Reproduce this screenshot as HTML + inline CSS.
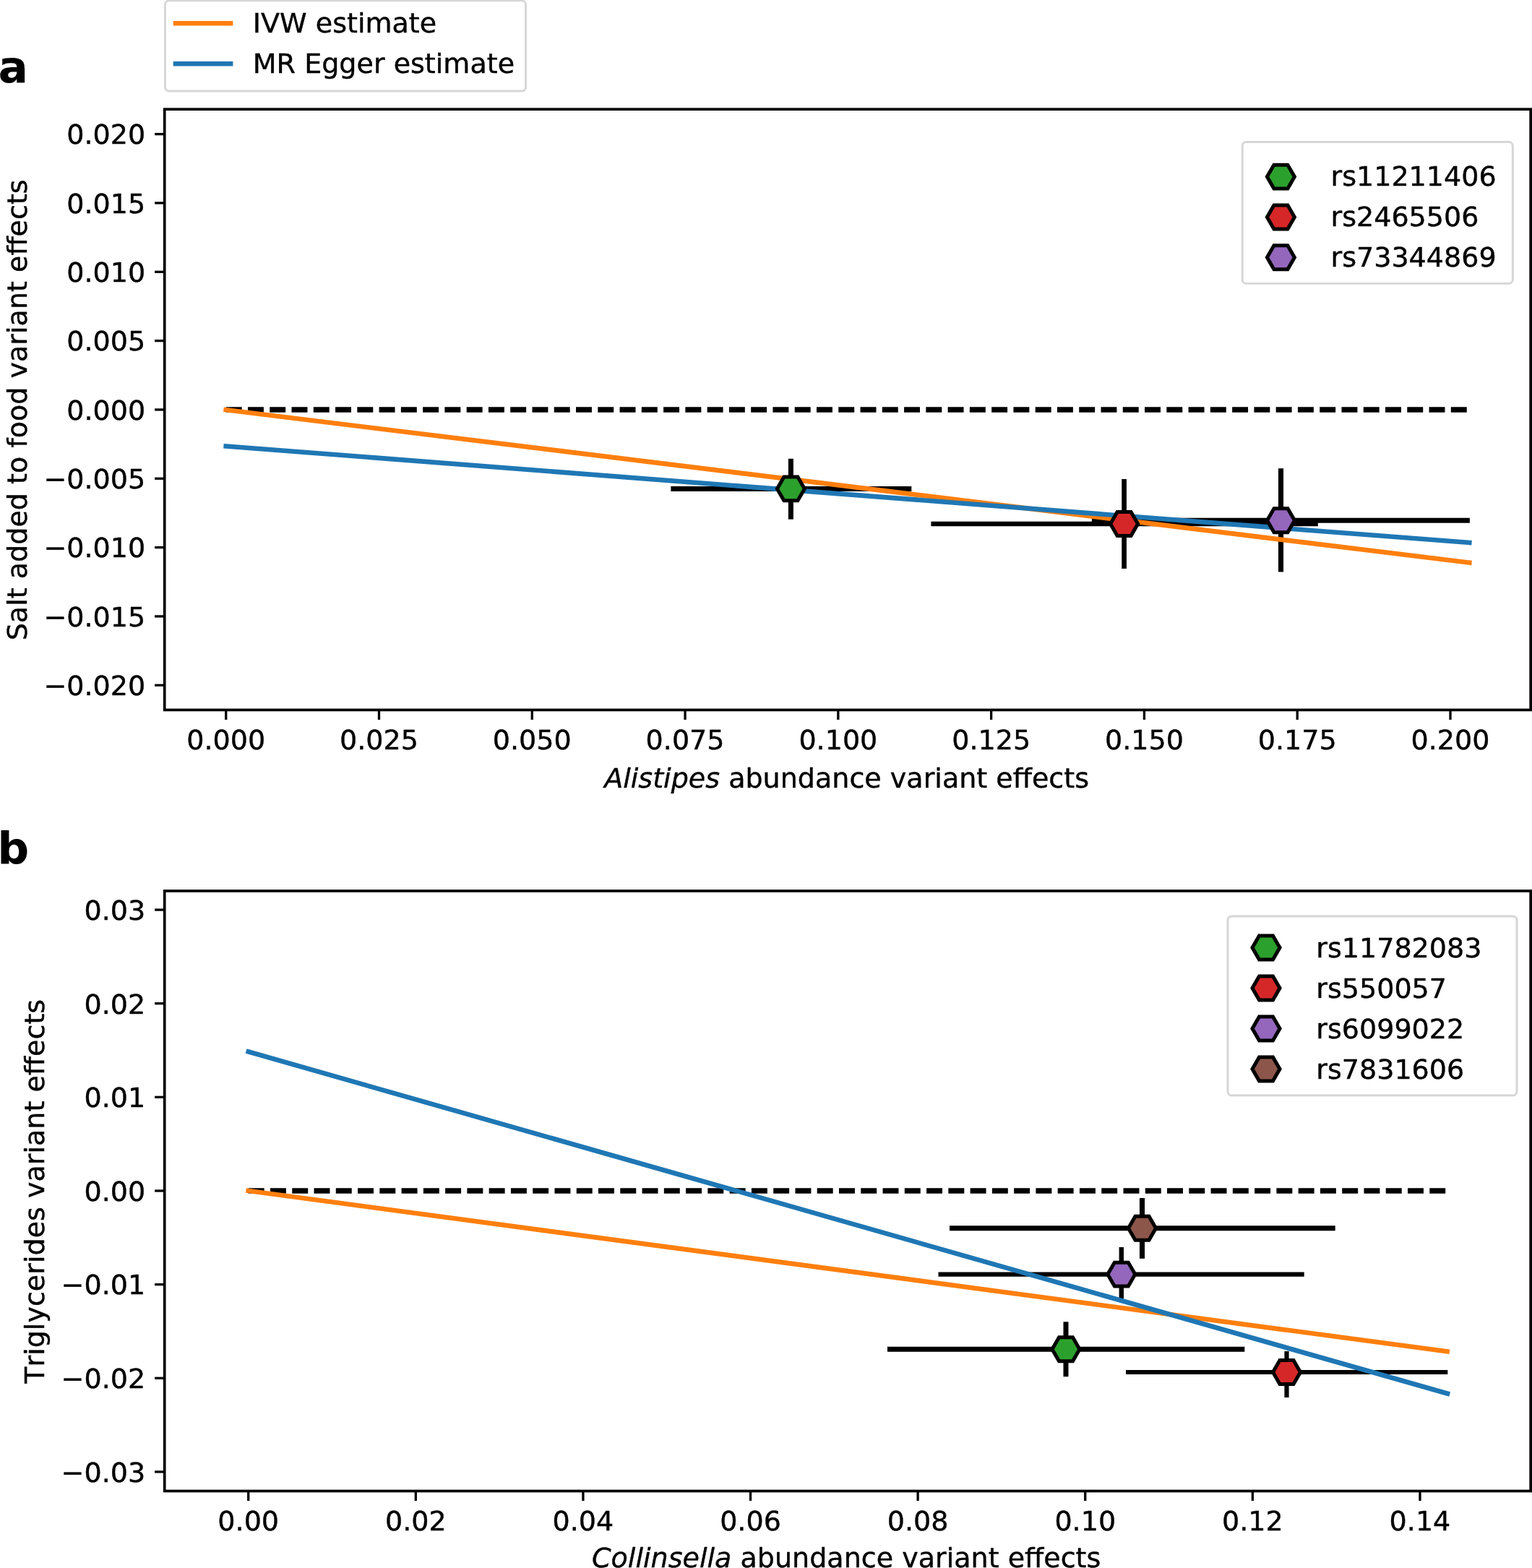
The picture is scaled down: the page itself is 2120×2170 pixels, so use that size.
<!DOCTYPE html>
<html lang="en">
<head>
<meta charset="utf-8">
<title>Mendelian randomization scatter plots</title>
<style>
html,body{margin:0;padding:0;background:#fff;}
body{width:2120px;height:2170px;overflow:hidden;}
svg{display:block;}
</style>
</head>
<body>
<svg width="2120" height="2170" viewBox="0 0 2120 2170" font-family="'DejaVu Sans', 'Liberation Sans', sans-serif" fill="#000">
<style>text{stroke:#000;stroke-width:0.42px;stroke-linejoin:round;font-kerning:none}text.pl{stroke-width:0.2px}</style>
<rect width="2120" height="2170" fill="#fff"/>
<g id="panel-a">
<line x1="312.7" y1="566.95" x2="2033.8" y2="566.95" stroke="#000" stroke-width="7.5" stroke-linecap="butt" stroke-dasharray="21.95 8.32"/>
<line x1="928.4" y1="676.4" x2="1261.3" y2="676.4" stroke="#000" stroke-width="7" stroke-linecap="butt"/>
<line x1="1094.4" y1="634.8" x2="1094.4" y2="718.7" stroke="#000" stroke-width="7" stroke-linecap="butt"/>
<line x1="1288.4" y1="725" x2="1823.8" y2="725" stroke="#000" stroke-width="6.7" stroke-linecap="butt"/>
<line x1="1555.6" y1="663" x2="1555.6" y2="787" stroke="#000" stroke-width="6.7" stroke-linecap="butt"/>
<line x1="1510.9" y1="720.3" x2="2033.9" y2="720.3" stroke="#000" stroke-width="7.1" stroke-linecap="butt"/>
<line x1="1772.5" y1="648.3" x2="1772.5" y2="791.6" stroke="#000" stroke-width="7.1" stroke-linecap="butt"/>
<line x1="312.7" y1="567.2" x2="2033.3" y2="778.7" stroke="#ff7f0e" stroke-width="6.6" stroke-linecap="square"/>
<line x1="312.7" y1="617.5" x2="2033.3" y2="751" stroke="#1f77b4" stroke-width="6.6" stroke-linecap="square"/>
<polygon points="1113.4,676.4 1103.9,692.85 1084.9,692.85 1075.4,676.4 1084.9,659.95 1103.9,659.95" fill="#2ca02c" stroke="#000" stroke-width="5" stroke-linejoin="miter"/>
<polygon points="1574.6,725 1565.1,741.45 1546.1,741.45 1536.6,725 1546.1,708.55 1565.1,708.55" fill="#d62728" stroke="#000" stroke-width="5" stroke-linejoin="miter"/>
<polygon points="1791.5,720.3 1782,736.75 1763,736.75 1753.5,720.3 1763,703.85 1782,703.85" fill="#9467bd" stroke="#000" stroke-width="5" stroke-linejoin="miter"/>
<rect x="227.7" y="151.2" width="1890.5" height="831.3" fill="none" stroke="#000" stroke-width="3.7"/>
<line x1="312.7" y1="982.5" x2="312.7" y2="996.1" stroke="#000" stroke-width="3.3" stroke-linecap="butt"/>
<text x="312.7" y="1037" font-size="38.05" text-anchor="middle">0.000</text>
<line x1="524.49" y1="982.5" x2="524.49" y2="996.1" stroke="#000" stroke-width="3.3" stroke-linecap="butt"/>
<text x="524.49" y="1037" font-size="38.05" text-anchor="middle">0.025</text>
<line x1="736.28" y1="982.5" x2="736.28" y2="996.1" stroke="#000" stroke-width="3.3" stroke-linecap="butt"/>
<text x="736.28" y="1037" font-size="38.05" text-anchor="middle">0.050</text>
<line x1="948.06" y1="982.5" x2="948.06" y2="996.1" stroke="#000" stroke-width="3.3" stroke-linecap="butt"/>
<text x="948.06" y="1037" font-size="38.05" text-anchor="middle">0.075</text>
<line x1="1159.85" y1="982.5" x2="1159.85" y2="996.1" stroke="#000" stroke-width="3.3" stroke-linecap="butt"/>
<text x="1159.85" y="1037" font-size="38.05" text-anchor="middle">0.100</text>
<line x1="1371.64" y1="982.5" x2="1371.64" y2="996.1" stroke="#000" stroke-width="3.3" stroke-linecap="butt"/>
<text x="1371.64" y="1037" font-size="38.05" text-anchor="middle">0.125</text>
<line x1="1583.42" y1="982.5" x2="1583.42" y2="996.1" stroke="#000" stroke-width="3.3" stroke-linecap="butt"/>
<text x="1583.42" y="1037" font-size="38.05" text-anchor="middle">0.150</text>
<line x1="1795.21" y1="982.5" x2="1795.21" y2="996.1" stroke="#000" stroke-width="3.3" stroke-linecap="butt"/>
<text x="1795.21" y="1037" font-size="38.05" text-anchor="middle">0.175</text>
<line x1="2007" y1="982.5" x2="2007" y2="996.1" stroke="#000" stroke-width="3.3" stroke-linecap="butt"/>
<text x="2007" y="1037" font-size="38.05" text-anchor="middle">0.200</text>
<line x1="214.1" y1="185.59" x2="227.7" y2="185.59" stroke="#000" stroke-width="3.3" stroke-linecap="butt"/>
<text x="201.2" y="199.39" font-size="38.05" text-anchor="end">0.020</text>
<line x1="214.1" y1="280.93" x2="227.7" y2="280.93" stroke="#000" stroke-width="3.3" stroke-linecap="butt"/>
<text x="201.2" y="294.73" font-size="38.05" text-anchor="end">0.015</text>
<line x1="214.1" y1="376.27" x2="227.7" y2="376.27" stroke="#000" stroke-width="3.3" stroke-linecap="butt"/>
<text x="201.2" y="390.07" font-size="38.05" text-anchor="end">0.010</text>
<line x1="214.1" y1="471.61" x2="227.7" y2="471.61" stroke="#000" stroke-width="3.3" stroke-linecap="butt"/>
<text x="201.2" y="485.41" font-size="38.05" text-anchor="end">0.005</text>
<line x1="214.1" y1="566.95" x2="227.7" y2="566.95" stroke="#000" stroke-width="3.3" stroke-linecap="butt"/>
<text x="201.2" y="580.75" font-size="38.05" text-anchor="end">0.000</text>
<line x1="214.1" y1="662.29" x2="227.7" y2="662.29" stroke="#000" stroke-width="3.3" stroke-linecap="butt"/>
<text x="201.2" y="676.09" font-size="38.05" text-anchor="end">−0.005</text>
<line x1="214.1" y1="757.63" x2="227.7" y2="757.63" stroke="#000" stroke-width="3.3" stroke-linecap="butt"/>
<text x="201.2" y="771.43" font-size="38.05" text-anchor="end">−0.010</text>
<line x1="214.1" y1="852.97" x2="227.7" y2="852.97" stroke="#000" stroke-width="3.3" stroke-linecap="butt"/>
<text x="201.2" y="866.77" font-size="38.05" text-anchor="end">−0.015</text>
<line x1="214.1" y1="948.31" x2="227.7" y2="948.31" stroke="#000" stroke-width="3.3" stroke-linecap="butt"/>
<text x="201.2" y="962.11" font-size="38.05" text-anchor="end">−0.020</text>
<text x="1171.6" y="1089.8" font-size="38.05" text-anchor="middle"><tspan font-style="italic">Alistipes</tspan> abundance variant effects</text>
<text transform="translate(37.2 567.3) rotate(-90)" font-size="38.05" text-anchor="middle">Salt added to food variant effects</text>
<rect x="1719.2" y="196.5" width="374.1" height="195.9" rx="5.5" ry="5.5" fill="#fff" fill-opacity="0.8" stroke="#cccccc" stroke-opacity="0.8" stroke-width="2.9"/>
<polygon points="1791.4,244.6 1781.9,261.05 1762.9,261.05 1753.4,244.6 1762.9,228.15 1781.9,228.15" fill="#2ca02c" stroke="#000" stroke-width="5" stroke-linejoin="miter"/>
<text x="1841.5" y="257.4" font-size="38.05" text-anchor="start">rs11211406</text>
<polygon points="1791.4,300.45 1781.9,316.9 1762.9,316.9 1753.4,300.45 1762.9,284 1781.9,284" fill="#d62728" stroke="#000" stroke-width="5" stroke-linejoin="miter"/>
<text x="1841.5" y="313.25" font-size="38.05" text-anchor="start">rs2465506</text>
<polygon points="1791.4,356.3 1781.9,372.75 1762.9,372.75 1753.4,356.3 1762.9,339.85 1781.9,339.85" fill="#9467bd" stroke="#000" stroke-width="5" stroke-linejoin="miter"/>
<text x="1841.5" y="369.1" font-size="38.05" text-anchor="start">rs73344869</text>
<rect x="228.4" y="0.9" width="499.1" height="125.1" rx="5.5" ry="5.5" fill="#fff" fill-opacity="0.8" stroke="#cccccc" stroke-opacity="0.8" stroke-width="2.9"/>
<line x1="243" y1="32.3" x2="319.1" y2="32.3" stroke="#ff7f0e" stroke-width="6.6" stroke-linecap="square"/>
<text x="349.8" y="45.3" font-size="38.05" text-anchor="start">IVW estimate</text>
<line x1="243" y1="88.2" x2="319.1" y2="88.2" stroke="#1f77b4" stroke-width="6.6" stroke-linecap="square"/>
<text x="349.8" y="101.2" font-size="38.05" text-anchor="start">MR Egger estimate</text>
<text x="18.2" y="114.1" font-size="60.8" text-anchor="middle" font-weight="bold" class="pl">a</text>
</g>
<g id="panel-b">
<line x1="343.7" y1="1648" x2="2003" y2="1648" stroke="#000" stroke-width="7.5" stroke-linecap="butt" stroke-dasharray="21.95 8.32"/>
<line x1="1228" y1="1867.2" x2="1722.3" y2="1867.2" stroke="#000" stroke-width="7" stroke-linecap="butt"/>
<line x1="1475" y1="1829.3" x2="1475" y2="1905.2" stroke="#000" stroke-width="7" stroke-linecap="butt"/>
<line x1="1558" y1="1899" x2="2003.3" y2="1899" stroke="#000" stroke-width="6.2" stroke-linecap="butt"/>
<line x1="1780.5" y1="1870" x2="1780.5" y2="1934" stroke="#000" stroke-width="6.2" stroke-linecap="butt"/>
<line x1="1298.5" y1="1763.6" x2="1804.7" y2="1763.6" stroke="#000" stroke-width="6.4" stroke-linecap="butt"/>
<line x1="1551.8" y1="1726" x2="1551.8" y2="1797" stroke="#000" stroke-width="6.4" stroke-linecap="butt"/>
<line x1="1314" y1="1699.8" x2="1847.7" y2="1699.8" stroke="#000" stroke-width="7.1" stroke-linecap="butt"/>
<line x1="1580.5" y1="1658" x2="1580.5" y2="1741.8" stroke="#000" stroke-width="7.1" stroke-linecap="butt"/>
<line x1="343.7" y1="1648" x2="2002.6" y2="1870.4" stroke="#ff7f0e" stroke-width="6.6" stroke-linecap="square"/>
<line x1="343.7" y1="1455.5" x2="2003" y2="1928.6" stroke="#1f77b4" stroke-width="6.6" stroke-linecap="square"/>
<polygon points="1494,1867.2 1484.5,1883.65 1465.5,1883.65 1456,1867.2 1465.5,1850.75 1484.5,1850.75" fill="#2ca02c" stroke="#000" stroke-width="5" stroke-linejoin="miter"/>
<polygon points="1799.5,1899 1790,1915.45 1771,1915.45 1761.5,1899 1771,1882.55 1790,1882.55" fill="#d62728" stroke="#000" stroke-width="5" stroke-linejoin="miter"/>
<polygon points="1570.8,1763.6 1561.3,1780.05 1542.3,1780.05 1532.8,1763.6 1542.3,1747.15 1561.3,1747.15" fill="#9467bd" stroke="#000" stroke-width="5" stroke-linejoin="miter"/>
<polygon points="1599.5,1699.8 1590,1716.25 1571,1716.25 1561.5,1699.8 1571,1683.35 1590,1683.35" fill="#8c564b" stroke="#000" stroke-width="5" stroke-linejoin="miter"/>
<rect x="227.7" y="1233" width="1890.5" height="830.5" fill="none" stroke="#000" stroke-width="3.7"/>
<line x1="343.7" y1="2063.5" x2="343.7" y2="2077.1" stroke="#000" stroke-width="3.3" stroke-linecap="butt"/>
<text x="343.7" y="2118" font-size="38.05" text-anchor="middle">0.00</text>
<line x1="575.31" y1="2063.5" x2="575.31" y2="2077.1" stroke="#000" stroke-width="3.3" stroke-linecap="butt"/>
<text x="575.31" y="2118" font-size="38.05" text-anchor="middle">0.02</text>
<line x1="806.92" y1="2063.5" x2="806.92" y2="2077.1" stroke="#000" stroke-width="3.3" stroke-linecap="butt"/>
<text x="806.92" y="2118" font-size="38.05" text-anchor="middle">0.04</text>
<line x1="1038.53" y1="2063.5" x2="1038.53" y2="2077.1" stroke="#000" stroke-width="3.3" stroke-linecap="butt"/>
<text x="1038.53" y="2118" font-size="38.05" text-anchor="middle">0.06</text>
<line x1="1270.13" y1="2063.5" x2="1270.13" y2="2077.1" stroke="#000" stroke-width="3.3" stroke-linecap="butt"/>
<text x="1270.13" y="2118" font-size="38.05" text-anchor="middle">0.08</text>
<line x1="1501.74" y1="2063.5" x2="1501.74" y2="2077.1" stroke="#000" stroke-width="3.3" stroke-linecap="butt"/>
<text x="1501.74" y="2118" font-size="38.05" text-anchor="middle">0.10</text>
<line x1="1733.35" y1="2063.5" x2="1733.35" y2="2077.1" stroke="#000" stroke-width="3.3" stroke-linecap="butt"/>
<text x="1733.35" y="2118" font-size="38.05" text-anchor="middle">0.12</text>
<line x1="1964.96" y1="2063.5" x2="1964.96" y2="2077.1" stroke="#000" stroke-width="3.3" stroke-linecap="butt"/>
<text x="1964.96" y="2118" font-size="38.05" text-anchor="middle">0.14</text>
<line x1="214.1" y1="1259.1" x2="227.7" y2="1259.1" stroke="#000" stroke-width="3.3" stroke-linecap="butt"/>
<text x="201.2" y="1272.9" font-size="38.05" text-anchor="end">0.03</text>
<line x1="214.1" y1="1388.73" x2="227.7" y2="1388.73" stroke="#000" stroke-width="3.3" stroke-linecap="butt"/>
<text x="201.2" y="1402.53" font-size="38.05" text-anchor="end">0.02</text>
<line x1="214.1" y1="1518.37" x2="227.7" y2="1518.37" stroke="#000" stroke-width="3.3" stroke-linecap="butt"/>
<text x="201.2" y="1532.17" font-size="38.05" text-anchor="end">0.01</text>
<line x1="214.1" y1="1648" x2="227.7" y2="1648" stroke="#000" stroke-width="3.3" stroke-linecap="butt"/>
<text x="201.2" y="1661.8" font-size="38.05" text-anchor="end">0.00</text>
<line x1="214.1" y1="1777.63" x2="227.7" y2="1777.63" stroke="#000" stroke-width="3.3" stroke-linecap="butt"/>
<text x="201.2" y="1791.43" font-size="38.05" text-anchor="end">−0.01</text>
<line x1="214.1" y1="1907.27" x2="227.7" y2="1907.27" stroke="#000" stroke-width="3.3" stroke-linecap="butt"/>
<text x="201.2" y="1921.07" font-size="38.05" text-anchor="end">−0.02</text>
<line x1="214.1" y1="2036.9" x2="227.7" y2="2036.9" stroke="#000" stroke-width="3.3" stroke-linecap="butt"/>
<text x="201.2" y="2050.7" font-size="38.05" text-anchor="end">−0.03</text>
<text x="1171.2" y="2169.1" font-size="38.05" text-anchor="middle"><tspan font-style="italic">Collinsella</tspan> abundance variant effects</text>
<text transform="translate(61.4 1648.8) rotate(-90)" font-size="38.05" text-anchor="middle">Triglycerides variant effects</text>
<rect x="1699" y="1268" width="400" height="248" rx="5.5" ry="5.5" fill="#fff" fill-opacity="0.8" stroke="#cccccc" stroke-opacity="0.8" stroke-width="2.9"/>
<polygon points="1771,1311.5 1761.5,1327.95 1742.5,1327.95 1733,1311.5 1742.5,1295.05 1761.5,1295.05" fill="#2ca02c" stroke="#000" stroke-width="5" stroke-linejoin="miter"/>
<text x="1821.3" y="1324.5" font-size="38.05" text-anchor="start">rs11782083</text>
<polygon points="1771,1367.5 1761.5,1383.95 1742.5,1383.95 1733,1367.5 1742.5,1351.05 1761.5,1351.05" fill="#d62728" stroke="#000" stroke-width="5" stroke-linejoin="miter"/>
<text x="1821.3" y="1380.5" font-size="38.05" text-anchor="start">rs550057</text>
<polygon points="1771,1423.5 1761.5,1439.95 1742.5,1439.95 1733,1423.5 1742.5,1407.05 1761.5,1407.05" fill="#9467bd" stroke="#000" stroke-width="5" stroke-linejoin="miter"/>
<text x="1821.3" y="1436.5" font-size="38.05" text-anchor="start">rs6099022</text>
<polygon points="1771,1479.5 1761.5,1495.95 1742.5,1495.95 1733,1479.5 1742.5,1463.05 1761.5,1463.05" fill="#8c564b" stroke="#000" stroke-width="5" stroke-linejoin="miter"/>
<text x="1821.3" y="1492.5" font-size="38.05" text-anchor="start">rs7831606</text>
<text x="18.2" y="1195" font-size="60.8" text-anchor="middle" font-weight="bold" class="pl">b</text>
</g>
</svg>
</body>
</html>
